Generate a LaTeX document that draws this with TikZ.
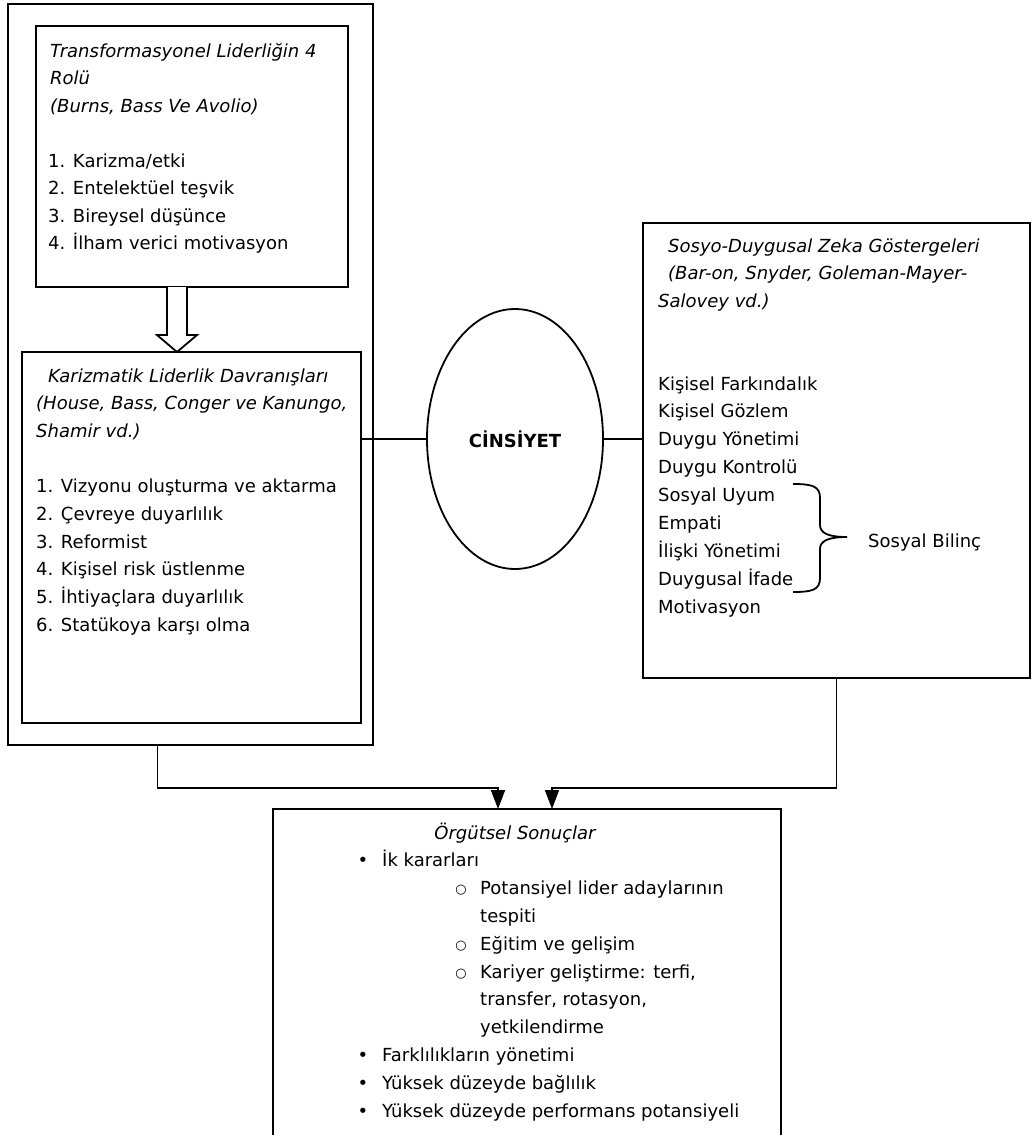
\documentclass[tikz,border=0pt]{standalone}
\usepackage{fontspec}
\setmainfont{DejaVu Sans}
\usetikzlibrary{shapes.geometric,arrows.meta,calc}

\newcommand{\yazi}{\fontsize{18}{22}\selectfont}

\tikzset{
  kutu/.style={draw, line width=1.8pt, rectangle, inner sep=0pt, outer sep=0pt, anchor=north west},
  satir/.style={anchor=base west, inner sep=0pt, font=\yazi},
  baslik/.style={anchor=base west, inner sep=0pt, font=\yazi\itshape},
  madde/.style={anchor=base, inner sep=0pt, font=\yazi},
  halka/.style={anchor=base, inner sep=0pt, font=\fontsize{13}{16}\selectfont},
  cizgi/.style={line width=1.8pt},
  ok/.style={cizgi, -{Triangle[length=19pt,width=14pt]}},
}

\begin{document}
\begin{tikzpicture}[x=1pt, y=1pt]
\clip (0,0) rectangle (1031,-1135);

% kutular
\node[kutu, line width=2.3pt, minimum width=365pt, minimum height=741pt] (dis) at (8,-4) {};
\node[kutu, minimum width=312pt, minimum height=261pt] (rol) at (36,-26) {};
\node[kutu, minimum width=339pt, minimum height=371pt] (dav) at (22,-352) {};
\node[draw, ellipse, cizgi, inner sep=0pt, outer sep=0pt,
      minimum width=176pt, minimum height=260pt, font=\yazi\bfseries] (cins) at (515,-439) {CİNSİYET};
\node[kutu, minimum width=387pt, minimum height=455pt] (zeka) at (643,-223) {};
\node[kutu, minimum width=508pt, minimum height=400pt] (sonuc) at (273,-809) {};

% transformasyonel liderlik
\foreach \txt [count=\i from 0] in {Transformasyonel Liderliğin 4, Rolü, {(Burns, Bass Ve Avolio)}}
  \node[baslik] (rolb\i) at (50,{-57-27.5*\i}) {\txt};
\foreach \txt [count=\i from 0] in {{1. Karizma/etki}, 2. Entelektüel teşvik, 3. Bireysel düşünce, 4. İlham verici motivasyon}
  \node[satir] (rol\i) at (48,{-167-27.5*\i}) {\txt};

% karizmatik liderlik
\node[baslik] (davb0) at (48,-382) {Karizmatik Liderlik Davranışları};
\node[baslik] (davb1) at (36,-409.7) {(House, Bass, Conger ve Kanungo,};
\node[baslik] (davb2) at (36,-437.4) {Shamir vd.)};
\foreach \txt [count=\i from 0] in {1. Vizyonu oluşturma ve aktarma, 2. Çevreye duyarlılık, 3. Reformist,
    4. Kişisel risk üstlenme, 5. İhtiyaçlara duyarlılık, 6. Statükoya karşı olma}
  \node[satir] (dav\i) at (36,{-492.8-27.7*\i}) {\txt};

% sosyo-duygusal zeka
\node[baslik] (zekab0) at (668,-252) {Sosyo-Duygusal Zeka Göstergeleri};
\node[baslik] (zekab1) at (668,-279.5) {(Bar-on, Snyder, Goleman-Mayer-};
\node[baslik] (zekab2) at (658,-307) {Salovey vd.)};
\foreach \txt [count=\i from 0] in {Kişisel Farkındalık, Kişisel Gözlem, Duygu Yönetimi, Duygu Kontrolü,
    Sosyal Uyum, Empati, İlişki Yönetimi, Duygusal İfade, Motivasyon}
  \node[satir] (zeka\i) at (658,{-390-27.9*\i}) {\txt};
\draw[cizgi] (793,-484) .. controls (812,-484) and (820,-486) .. (820,-498) -- (820,-525)
  .. controls (820,-533) and (828,-537) .. (847,-537)
  .. controls (828,-537) and (820,-541) .. (820,-549) -- (820,-578)
  .. controls (820,-590) and (812,-592) .. (793,-592);
\node[satir] (bilinc) at (868,-547) {Sosyal Bilinç};

% orgutsel sonuclar
\node[madde, font=\yazi\itshape] (sonucb) at (515,-839) {Örgütsel Sonuçlar};
\node[madde] (m1) at (363,-866.8) {•};
\node[satir] (s1) at (382,-866.8) {İk kararları};
\node[halka] (m2) at (461,-893.6) {○};
\node[satir] (s2) at (480,-894.6) {Potansiyel lider adaylarının};
\node[satir] (s3) at (480,-922.4) {tespiti};
\node[halka] (m4) at (461,-949.2) {○};
\node[satir] (s4) at (480,-950.2) {Eğitim ve gelişim};
\node[halka] (m5) at (461,-977) {○};
\node[satir] (s5) at (480,-978) {Kariyer geliştirme: terfi,};
\node[satir] (s6) at (480,-1005.8) {transfer, rotasyon,};
\node[satir] (s7) at (480,-1033.6) {yetkilendirme};
\node[madde] (m8) at (363,-1061.4) {•};
\node[satir] (s8) at (382,-1061.4) {Farklılıkların yönetimi};
\node[madde] (m9) at (363,-1089.2) {•};
\node[satir] (s9) at (382,-1089.2) {Yüksek düzeyde bağlılık};
\node[madde] (m10) at (363,-1117) {•};
\node[satir] (s10) at (382,-1117) {Yüksek düzeyde performans potansiyeli};

% baglantilar
\draw[cizgi, fill=white] ($(rol.south)+(-25,0)$) -- ++(0,-48) -- ++(-10,0) -- ++(20,-17)
  -- ++(20,17) -- ++(-10,0) -- ++(0,48);
\draw[cizgi] (dav.east |- cins.west) -- (cins.west);
\draw[cizgi] (cins.east) -- (cins.east -| zeka.west);
\draw[ok] ($(dis.south)+(-33,0)$) -- ++(0,-43) -| ($(sonuc.north)+(-29,0)$);
\draw[ok] (zeka.south) -- ++(0,-110) -| ($(sonuc.north)+(25,0)$);
\end{tikzpicture}
\end{document}
